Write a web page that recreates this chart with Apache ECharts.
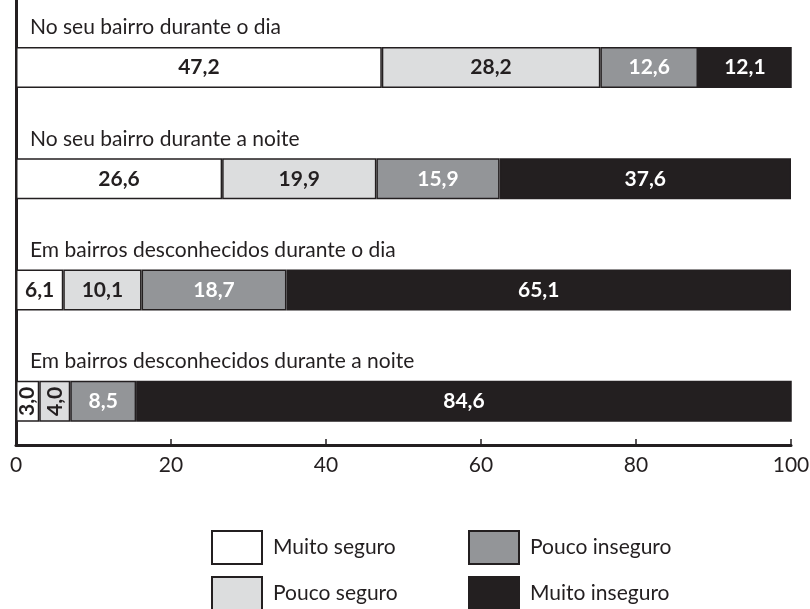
<!DOCTYPE html>
<html>
<head>
<meta charset="utf-8">
<script src="https://cdn.jsdelivr.net/npm/echarts@6.0.0/dist/echarts.min.js"></script>
<style>
  html, body { margin: 0; padding: 0; background: #fff; }
  #chart { width: 810px; height: 609px; }
</style>
</head>
<body>
<div id="chart"></div>
<script>
const categories = [
    'No seu bairro durante o dia',
    'No seu bairro durante a noite',
    'Em bairros desconhecidos durante o dia',
    'Em bairros desconhecidos durante a noite'
];
const muito_seguro = [47.2, 26.6, 6.1, 3.0];
const pouco_seguro = [28.2, 19.9, 10.1, 4.0];
const pouco_inseguro = [12.6, 15.9, 18.7, 8.5];
const muito_inseguro = [12.1, 37.6, 65.1, 84.6];
const x_ticks = [0, 20, 40, 60, 80, 100];

const FONT = 'Lato';
const INK = '#231f20';

function fmt(v) {
    return v.toFixed(1).replace('.', ',');
}

function make_series(name, values, fill, textColor) {
    return {
        name: name,
        type: 'bar',
        stack: 'a',
        barWidth: 41,
        barGap: '-41.5%',
        itemStyle: { color: fill, borderColor: INK, borderWidth: 1.5 },
        label: {
            show: true,
            position: 'inside',
            color: textColor,
            fontFamily: FONT,
            fontWeight: 'bold',
            fontSize: 21,
            formatter: p => fmt(p.value)
        },
        data: values.map(v => v < 5 ? { value: v, label: { rotate: 90 } } : v)
    };
}

// one legend per entry so the 2x2 block sits exactly where it should
function make_legend(name, left, top) {
    return {
        data: [name],
        left: left, top: top, padding: 0,
        icon: 'rect',
        itemWidth: 50, itemHeight: 33,
        textStyle: { fontFamily: FONT, fontSize: 21, color: INK, padding: [0, 0, 0, 6] }
    };
}

const chart = echarts.init(document.getElementById('chart'));

const option = {
    animation: false,
    grid: { left: 16, right: 19, top: 0, bottom: 164, outerBoundsMode: 'none' },
    legend: [
        make_legend('Muito seguro', 211, 530),
        make_legend('Pouco seguro', 211, 576),
        make_legend('Pouco inseguro', 468, 530),
        make_legend('Muito inseguro', 468, 576)
    ],
    xAxis: {
        type: 'value',
        min: x_ticks[0],
        max: x_ticks[x_ticks.length - 1],
        interval: 20,
        axisLine: { show: true, lineStyle: { color: INK, width: 3 } },
        axisTick: { show: true, inside: true, length: 6, lineStyle: { color: INK, width: 1.5 } },
        splitLine: { show: false },
        axisLabel: { fontFamily: FONT, fontSize: 21, color: INK, margin: 10 }
    },
    yAxis: {
        type: 'category',
        data: categories,
        inverse: true,
        axisLine: { show: true, lineStyle: { color: INK, width: 3 } },
        axisTick: { show: false },
        axisLabel: { show: false }
    },
    series: [
        {
            // invisible slot above each bar, carries the category title
            name: 'spacer',
            type: 'bar',
            stack: 'b',
            barWidth: 41,
            silent: true,
            itemStyle: { color: 'transparent' },
            label: {
                show: true,
                position: 'right',
                distance: 14,
                offset: [0, -16],
                fontFamily: FONT,
                fontSize: 21,
                color: INK,
                formatter: p => categories[p.dataIndex]
            },
            data: categories.map(() => 0)
        },
        make_series('Muito seguro', muito_seguro, '#ffffff', INK),
        make_series('Pouco seguro', pouco_seguro, '#dcddde', INK),
        make_series('Pouco inseguro', pouco_inseguro, '#939598', '#ffffff'),
        make_series('Muito inseguro', muito_inseguro, INK, '#ffffff')
    ]
};

chart.setOption(option);
</script>
</body>
</html>
